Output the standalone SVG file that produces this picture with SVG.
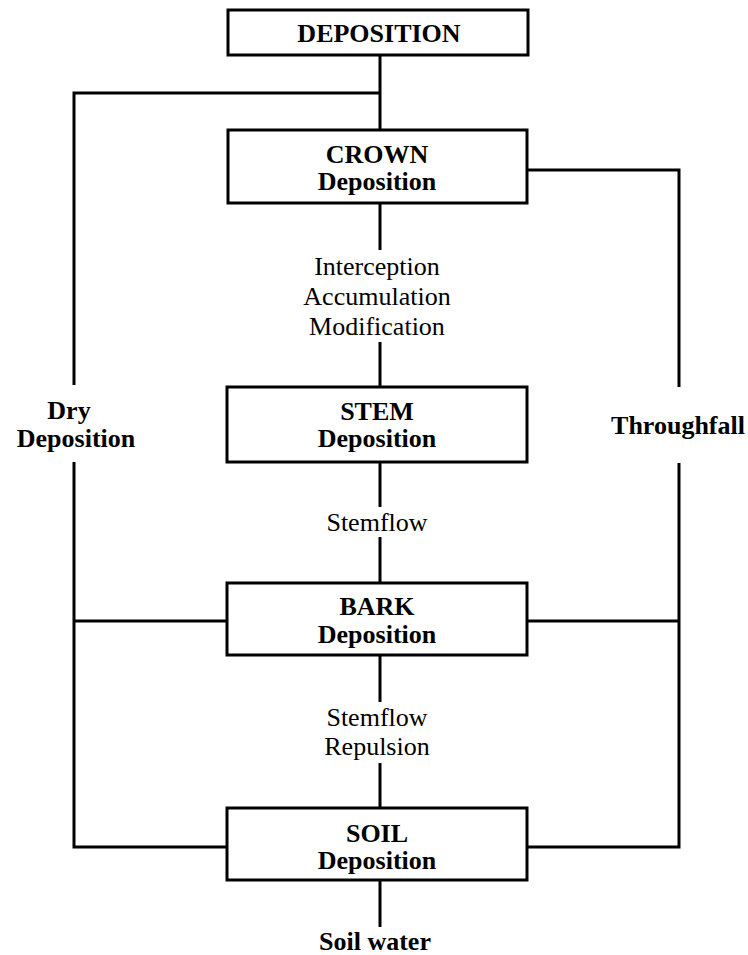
<svg xmlns="http://www.w3.org/2000/svg" width="748" height="955" viewBox="0 0 748 955">
<style>
.box{fill:#fff;stroke:#000;stroke-width:3}
.ln{stroke:#000;stroke-width:3;fill:none}
.b{font-family:"Liberation Serif",serif;font-weight:bold;font-size:26px;text-anchor:middle;fill:#000}
.r{font-family:"Liberation Serif",serif;font-size:26px;text-anchor:middle;fill:#000}
</style>
<rect width="748" height="955" fill="#fff"/>
<g id="connectors">
<path class="ln" d="M380 55V130"/>
<path class="ln" d="M380 93H74V385"/>
<path class="ln" d="M74 462V847H227"/>
<path class="ln" d="M74 621H227"/>
<path class="ln" d="M527 170H679V387"/>
<path class="ln" d="M679 463V847H527"/>
<path class="ln" d="M527 621H679"/>
<path class="ln" d="M380 203V250M380 342V387"/>
<path class="ln" d="M380 462V507M380 537V583"/>
<path class="ln" d="M380 655V702M380 763V808"/>
<path class="ln" d="M380 880V927"/>
<text class="r" x="377" y="275">Interception</text>
<text class="r" x="377" y="305">Accumulation</text>
<text class="r" x="377" y="335">Modification</text>
<text class="r" x="377" y="531">Stemflow</text>
<text class="r" x="377" y="726">Stemflow</text>
<text class="r" x="377" y="755">Repulsion</text>
<text class="b" x="69" y="419">Dry</text>
<text class="b" x="76" y="447">Deposition</text>
<text class="b" x="678" y="434">Throughfall</text>
<text class="b" x="375" y="950">Soil water</text>
</g>
<g id="deposition">
<rect class="box" x="228" y="10" width="300" height="45"/>
<text class="b" x="379" y="42">DEPOSITION</text>
</g>
<g id="crown">
<rect class="box" x="228" y="130" width="299" height="73"/>
<text class="b" x="377" y="163">CROWN</text>
<text class="b" x="377" y="190">Deposition</text>
</g>
<g id="stem">
<rect class="box" x="227" y="387" width="300" height="75"/>
<text class="b" x="377" y="420">STEM</text>
<text class="b" x="377" y="447">Deposition</text>
</g>
<g id="bark">
<rect class="box" x="227" y="583" width="300" height="72"/>
<text class="b" x="377" y="615">BARK</text>
<text class="b" x="377" y="643">Deposition</text>
</g>
<g id="soil">
<rect class="box" x="227" y="808" width="300" height="72"/>
<text class="b" x="377" y="842">SOIL</text>
<text class="b" x="377" y="869">Deposition</text>
</g>
</svg>
